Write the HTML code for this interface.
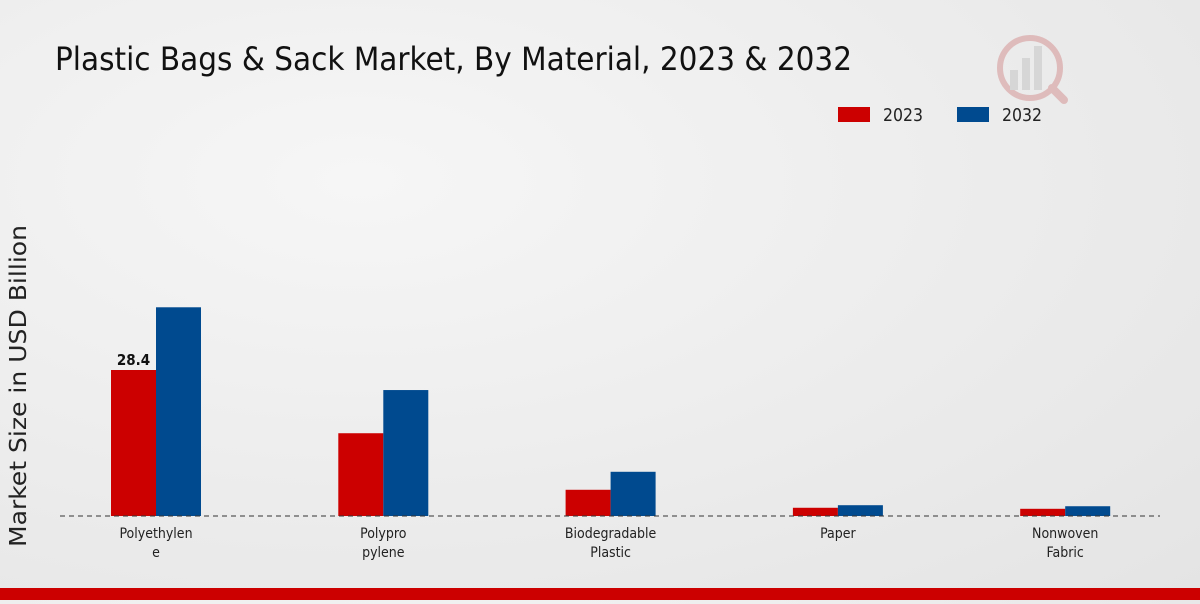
<!DOCTYPE html>
<html><head><meta charset="utf-8"><style>
html,body{margin:0;padding:0;}
body{width:1200px;height:600px;overflow:hidden;background:radial-gradient(ellipse at 30% 30%,#f6f6f6 0%,#ebebeb 60%,#e4e4e4 100%);font-family:"DejaVu Sans Condensed","DejaVu Sans","Liberation Sans",sans-serif;}
</style></head><body>
<svg id="chart" width="1200" height="600" xmlns="http://www.w3.org/2000/svg">
<text x="55" y="70" font-size="32" fill="#111" textLength="797" lengthAdjust="spacingAndGlyphs">Plastic Bags &amp; Sack Market, By Material, 2023 &amp; 2032</text>
<g opacity="0.35">
<circle cx="1030" cy="68" r="30" fill="none" stroke="#c86464" stroke-width="6"/>
<rect x="1010" y="70" width="8" height="20" fill="#b0b0b0"/>
<rect x="1022" y="58" width="8" height="32" fill="#b0b0b0"/>
<rect x="1034" y="46" width="8" height="44" fill="#b0b0b0"/>
<line x1="1052" y1="88" x2="1064" y2="100" stroke="#c86464" stroke-width="8" stroke-linecap="round"/>
</g>
<g>
<rect x="838" y="107" width="32" height="15" fill="#cc0000"/>
<text x="883" y="121" font-size="18" fill="#222" textLength="40" lengthAdjust="spacingAndGlyphs">2023</text>
<rect x="957" y="107" width="32" height="15" fill="#004a8f"/>
<text x="1002" y="121" font-size="18" fill="#222" textLength="40" lengthAdjust="spacingAndGlyphs">2032</text>
</g>
<text transform="translate(26,386) rotate(-90)" text-anchor="middle" font-size="23" fill="#222" textLength="322" lengthAdjust="spacingAndGlyphs">Market Size in USD Billion</text>
<g id="bars"></g>
<line x1="60" y1="516" x2="1160" y2="516" stroke="#333" stroke-width="1" stroke-dasharray="5,4"/>
<g id="labels"></g>
<rect x="0" y="588" width="1200" height="12" fill="#cc0000"/>
</svg>
<script>
const categories=[["Polyethylen","e"],["Polypro","pylene"],["Biodegradable","Plastic"],["Paper"],["Nonwoven","Fabric"]];
const values2023=[28.4,16.1,5.1,1.6,1.4];
const values2032=[40.6,24.5,8.6,2.1,1.9];
const valueLabels2023=["28.4","","","",""];
const NS="http://www.w3.org/2000/svg";
const baseY=516, pxPerUnit=146/28.4, x0=156, step=227.3, bw=45;
function xc(i){return x0+i*step;}
function y(v){return baseY-v*pxPerUnit;}
const bars=document.getElementById('bars'), labels=document.getElementById('labels');
function mk(t,a){const e=document.createElementNS(NS,t);for(const k in a)e.setAttribute(k,a[k]);return e;}
categories.forEach((c,i)=>{
  const r1=mk('rect',{x:xc(i)-bw,y:y(values2023[i]),width:bw,height:baseY-y(values2023[i]),fill:'#cc0000'});
  
  
  bars.appendChild(r1);
  const r2=mk('rect',{x:xc(i),y:y(values2032[i]),width:bw,height:baseY-y(values2032[i]),fill:'#004a8f'});
  
  
  bars.appendChild(r2);
  if(valueLabels2023[i]){
    const t=mk('text',{x:xc(i)-bw/2,y:y(values2023[i])-5,'text-anchor':'middle','font-size':15,'font-weight':'bold',fill:'#111'});
    t.textContent=valueLabels2023[i];
    
    
    labels.appendChild(t);
  }
  c.forEach((line,j)=>{
    const t=mk('text',{x:xc(i),y:538+j*19,'text-anchor':'middle','font-size':14,fill:'#222'});
    t.textContent=line;
    
    
    labels.appendChild(t);
  });
});
</script>
</body></html>
